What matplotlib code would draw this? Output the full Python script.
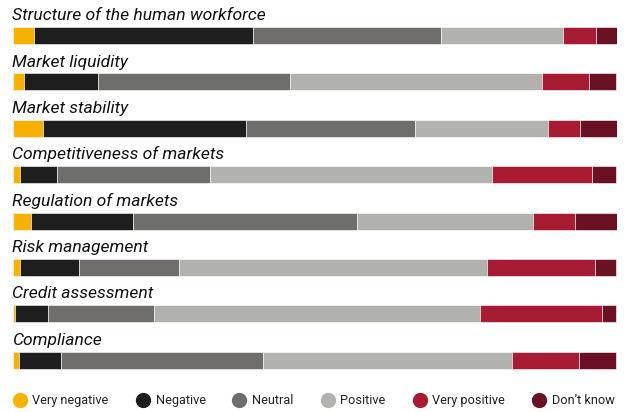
import matplotlib
matplotlib.use("Agg")
import matplotlib.pyplot as plt
from matplotlib.lines import Line2D
import numpy as np

categories = ["Structure of the human workforce", "Market liquidity", "Market stability",
              "Competitiveness of markets", "Regulation of markets", "Risk management",
              "Credit assessment", "Compliance"]
series_names = ["Very negative", "Negative", "Neutral", "Positive", "Very positive", "Don\u2019t know"]
very_negative = [3.5, 1.9, 5.1, 1.3, 3.0, 1.3, 0.4, 1.1]
negative      = [36.4, 12.2, 33.5, 6.0, 16.9, 9.7, 5.5, 7.0]
neutral       = [31.0, 31.8, 28.0, 25.4, 37.2, 16.6, 17.6, 33.3]
positive      = [20.3, 41.7, 22.0, 46.7, 29.1, 50.9, 53.9, 41.3]
very_positive = [5.4, 7.9, 5.3, 16.6, 6.9, 18.0, 20.2, 11.1]
dont_know     = [3.5, 4.5, 6.2, 4.0, 7.0, 3.5, 2.3, 6.2]
colors = ["#F8B100", "#1E1E1E", "#6F6E6A", "#B1B1AD", "#A71B33", "#6A1124"]

plt.rcParams['font.family'] = ['Roboto', 'DejaVu Sans']

fig = plt.figure(figsize=(6.3, 4.12), dpi=100)
ax = fig.add_axes([12.5 / 630, 0.0692, (617 - 12.5) / 630, 0.970 - 0.0692])

data = np.array([very_negative, negative, neutral, positive, very_positive, dont_know])
y = np.arange(len(categories))
h = 0.366
left = np.zeros(len(categories))
for vals, col in zip(data, colors):
    ax.barh(y, vals, left=left, height=h, color=col, edgecolor="white", linewidth=0.4)
    left += vals

for i, cat in enumerate(categories):
    ax.annotate(cat, xy=(0, i - h / 2), xytext=(0, 5), textcoords="offset points",
                fontsize=12.6, fontstyle="italic", ha="left", va="baseline", color="#111111")

ax.set_xlim(0, left.max())
ax.set_ylim(len(categories) - 0.5, -0.5)
ax.axis("off")

handles = [Line2D([], [], marker="o", linestyle="none", markersize=10, markerfacecolor=c,
                  markeredgecolor=c) for c in colors]
fig.legend(handles, series_names, ncol=6, loc="center left", bbox_to_anchor=(0.011, 0.0267),
           frameon=False, fontsize=9.2, handletextpad=0.4, columnspacing=2.06, handlelength=1.2,
           borderaxespad=0, labelcolor="#222222")

fig.savefig("out.png", dpi=100)
